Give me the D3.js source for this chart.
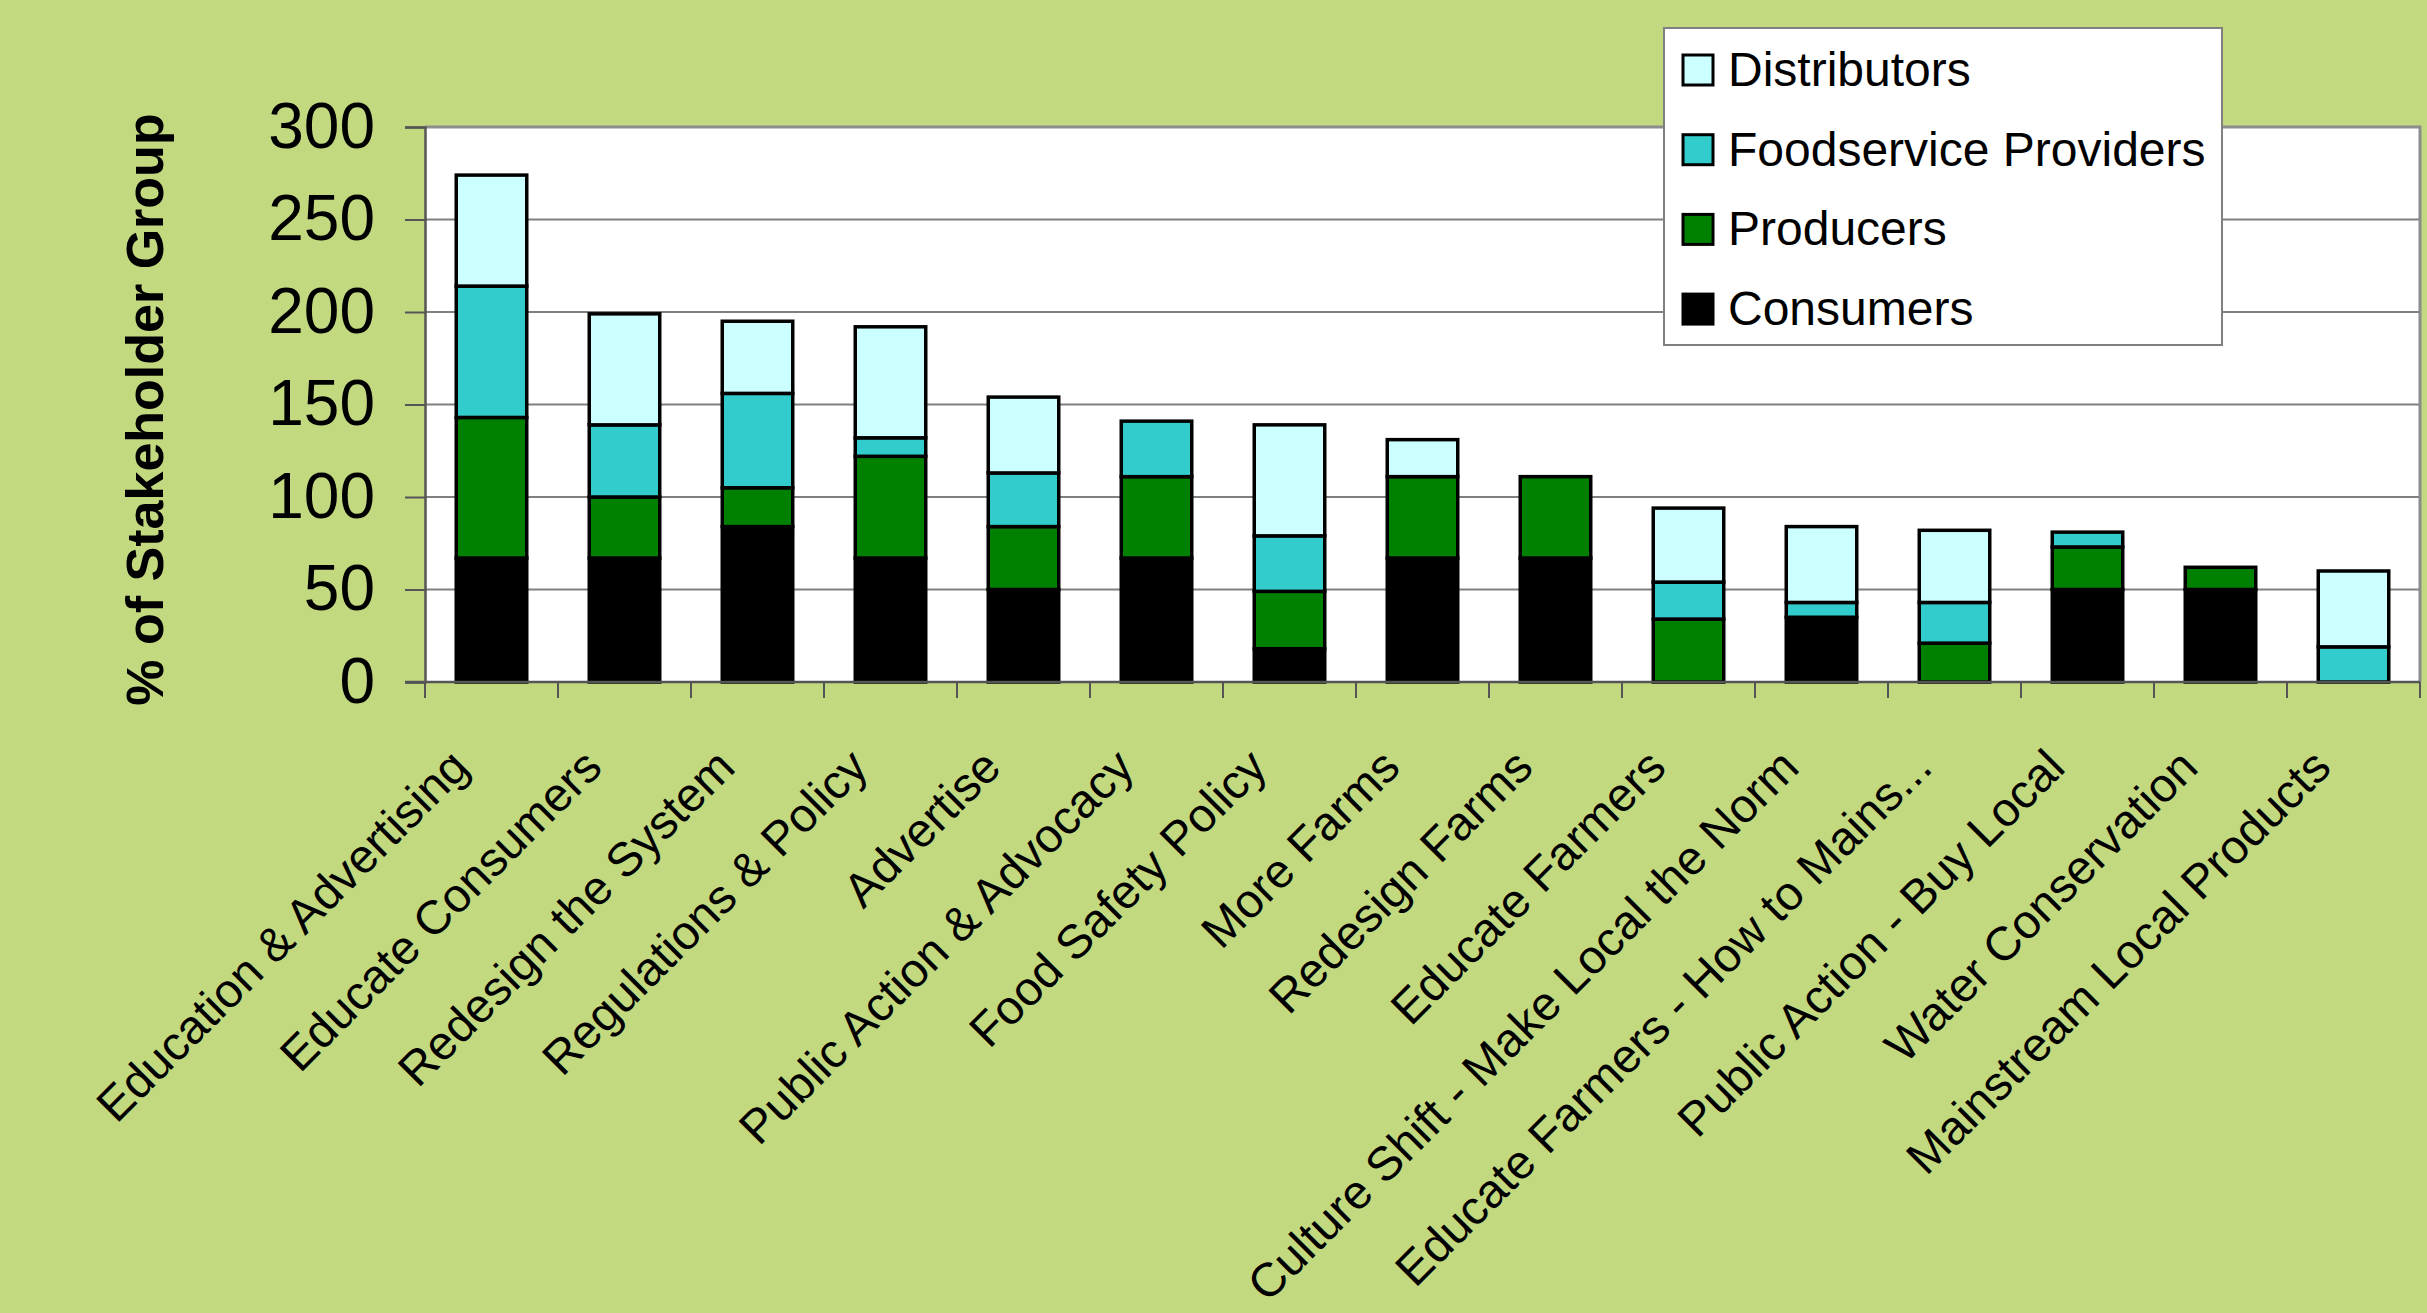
<!DOCTYPE html>
<html>
<head>
<meta charset="utf-8">
<script src="https://cdn.jsdelivr.net/npm/d3@7"></script>
<style>
  body { margin: 0; background: #c3d980; }
  text { font-family: "Liberation Sans", Arial, sans-serif; }
</style>
</head>
<body>
<div id="chart"></div>
<script>
const categories = [
  "Education & Advertising", "Educate Consumers", "Redesign the System",
  "Regulations & Policy", "Advertise", "Public Action & Advocacy",
  "Food Safety Policy", "More Farms", "Redesign Farms", "Educate Farmers",
  "Culture Shift - Make Local the Norm", "Educate Farmers - How to Mains...",
  "Public Action - Buy Local", "Water Conservation", "Mainstream Local Products"
];
const consumers    = [67, 67, 84, 67, 50, 67, 18, 67, 67,  0, 35,  0, 50, 50,  0];
const producers    = [76, 33, 21, 55, 34, 44, 31, 44, 44, 34,  0, 21, 23, 12,  0];
const foodservice  = [71, 39, 51, 10, 29, 30, 30,  0,  0, 20,  8, 22,  8,  0, 19];
const distributors = [60, 60, 39, 60, 41,  0, 60, 20,  0, 40, 41, 39,  0,  0, 41];
const seriesNames = ["Consumers", "Producers", "Foodservice Providers", "Distributors"];
const seriesColors = ["#000000", "#008000", "#33cccc", "#ccffff"];
const yTicks = [0, 50, 100, 150, 200, 250, 300];

const W = 2427, H = 1313;
const margin = {top: 127, right: 7, bottom: 631, left: 425};
const width = W - margin.left - margin.right;
const height = H - margin.top - margin.bottom;

const svg = d3.select("#chart").append("svg").attr("width", W).attr("height", H);
svg.append("rect").attr("width", W).attr("height", H).attr("fill", "#c3d980");

const g = svg.append("g").attr("transform", `translate(${margin.left},${margin.top})`);

const rows = categories.map((c, i) => ({
  cat: c,
  Consumers: consumers[i],
  Producers: producers[i],
  "Foodservice Providers": foodservice[i],
  Distributors: distributors[i]
}));
const stacked = d3.stack().keys(seriesNames)(rows);

const x = d3.scaleBand().domain(categories).range([0, width])
  .paddingInner(0.47).paddingOuter(0.235);
const y = d3.scaleLinear().domain([0, 300]).range([height, 0]);
const color = d3.scaleOrdinal().domain(seriesNames).range(seriesColors);

// plot area
g.append("rect").attr("width", width).attr("height", height).attr("fill", "#fff");

// gridlines
g.append("g").selectAll("line").data(yTicks.filter(d => d > 0 && d < 300)).join("line")
  .attr("x1", 0).attr("x2", width)
  .attr("y1", d => y(d)).attr("y2", d => y(d))
  .attr("stroke", "#808080").attr("stroke-width", 2);

// border top / right
g.append("path").attr("d", `M0,${y(300)}H${width}V${height}`)
  .attr("fill", "none").attr("stroke", "#8c8c8c").attr("stroke-width", 3);

// bars
g.append("g").selectAll("g").data(stacked).join("g")
  .attr("fill", d => color(d.key))
  .selectAll("rect").data(d => d.filter(s => s[1] - s[0] > 0)).join("rect")
    .attr("x", d => x(d.data.cat))
    .attr("width", x.bandwidth())
    .attr("y", d => y(d[1]))
    .attr("height", d => y(d[0]) - y(d[1]))
    .attr("stroke", "#000").attr("stroke-width", 3.5);

// y axis
const yAxis = g.append("g")
  .call(d3.axisLeft(y).tickValues(yTicks).tickSize(20).tickPadding(30));
yAxis.select(".domain").attr("stroke", "#555").attr("stroke-width", 2.5);
yAxis.selectAll(".tick line").attr("stroke", "#555").attr("stroke-width", 2);
yAxis.selectAll(".tick text").attr("font-size", 64).attr("fill", "#000")
  .attr("font-family", "Liberation Sans, Arial, sans-serif");

// x axis line with ticks between categories
const gap = (x.step() - x.bandwidth()) / 2;
const xg = g.append("g").attr("transform", `translate(0,${height})`);
xg.append("line").attr("x1", -20).attr("x2", width)
  .attr("stroke", "#555").attr("stroke-width", 2.5);
xg.selectAll(".sep").data(categories.concat(["__end"])).join("line")
  .attr("class", "sep")
  .attr("x1", (d, i) => i < categories.length ? x(d) - gap : width)
  .attr("x2", (d, i) => i < categories.length ? x(d) - gap : width)
  .attr("y1", 0).attr("y2", 16)
  .attr("stroke", "#555").attr("stroke-width", 2);

// x labels
xg.selectAll(".lbl").data(categories).join("text")
  .attr("class", "lbl")
  .attr("transform", d => `translate(${x(d) + x.bandwidth() / 2 - 32},76) rotate(-45)`)
  .attr("text-anchor", "end")
  .attr("dy", "0.35em")
  .attr("font-size", 47.5)
  .text(d => d);

// y title
svg.append("text")
  .attr("transform", `translate(163,${margin.top + height / 2 + 5}) rotate(-90)`)
  .attr("text-anchor", "middle")
  .attr("font-size", 52).attr("font-weight", "bold")
  .text("% of Stakeholder Group");

// legend
const legend = svg.append("g").attr("transform", "translate(1664,28)");
legend.append("rect").attr("width", 558).attr("height", 317)
  .attr("fill", "#fff").attr("stroke", "#808080").attr("stroke-width", 2);
const legendOrder = seriesNames.slice().reverse();
const li = legend.selectAll(".item").data(legendOrder).join("g")
  .attr("transform", (d, i) => `translate(0,${58 + i * 79.7})`);
li.append("rect").attr("x", 19).attr("y", -31).attr("width", 30).attr("height", 30)
  .attr("fill", d => color(d)).attr("stroke", "#000").attr("stroke-width", 3);
li.append("text").attr("x", 64).attr("y", 0).attr("font-size", 48).text(d => d);
</script>
</body>
</html>
